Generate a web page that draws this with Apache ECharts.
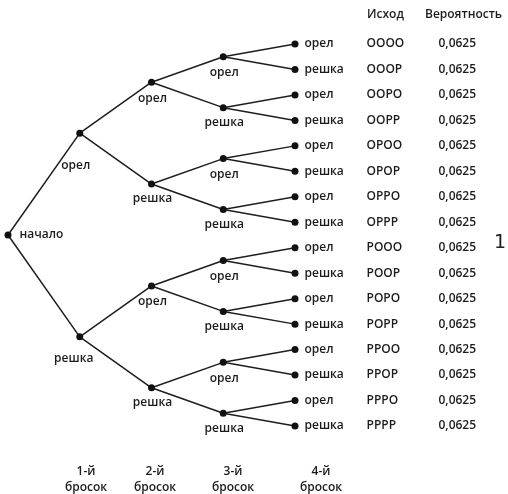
<!DOCTYPE html>
<html>
<head>
<meta charset="utf-8">
<script src="https://cdn.jsdelivr.net/npm/echarts@6/dist/echarts.min.js"></script>
<style>
html,body{margin:0;padding:0;background:#fff;}
#chart{width:508px;height:494px;}
</style>
</head>
<body>
<div id="chart"></div>
<script>
// ---- data ----
const rootLabel = 'начало';
const sides = ['орел', 'решка'];
const tossNames = ['1-й', '2-й', '3-й', '4-й'];
const tossWord = 'бросок';
const headers = ['Исход', 'Вероятность'];
const outcomes = ['ОООО','ОООР','ООРО','ООРР','ОРОО','ОРОР','ОРРО','ОРРР',
                  'РООО','РООР','РОРО','РОРР','РРОО','РРОР','РРРО','РРРР'];
const probabilities = [0.0625,0.0625,0.0625,0.0625,0.0625,0.0625,0.0625,0.0625,
                       0.0625,0.0625,0.0625,0.0625,0.0625,0.0625,0.0625,0.0625];
const footnote = '1';

// ---- build tree from the data ----
const DEPTH = tossNames.length;
const FONT = '"Open Sans", sans-serif';
const TXT = '#1c1c1c';
const nodes = [];
const links = [];
let leafCounter = 0;

function fmtProb(p){ return String(p).replace('.', ','); }

function innerLabel(depth, side){
  let off;
  if (depth === 1) off = side === 0 ? [-4, 32] : [-6, 22];
  else off = side === 0 ? [1, 16] : [1, 15];
  return { show: true, position: 'inside', offset: off, formatter: sides[side] };
}

function build(depth, side){
  const idx = nodes.length;
  const node = { name: 'n' + idx, value: [depth, 0] };
  nodes.push(node);
  if (depth === DEPTH){
    const leaf = leafCounter++;
    node.value[1] = leaf;
    node.label = {
      show: true, position: 'right', distance: 6,
      formatter: '{s|' + sides[side] + '}{o|' + outcomes[leaf] + '}{p|' + fmtProb(probabilities[leaf]) + '}',
      rich: {
        s: { width: 62, fontFamily: FONT, fontSize: 12, fontWeight: 600, color: TXT },
        o: { width: 72, fontFamily: FONT, fontSize: 12, fontWeight: 600, color: TXT },
        p: { fontFamily: FONT, fontSize: 12, fontWeight: 600, color: TXT }
      }
    };
    return idx;
  }
  const kids = [build(depth + 1, 0), build(depth + 1, 1)];
  node.value[1] = (nodes[kids[0]].value[1] + nodes[kids[1]].value[1]) / 2;
  kids.forEach(k => links.push({ source: idx, target: k }));
  if (depth === 0) {
    node.label = { show: true, position: 'right', distance: 8, formatter: rootLabel };
  } else {
    node.label = innerLabel(depth, side);
  }
  return idx;
}
build(0, -1);

const chart = echarts.init(document.getElementById('chart'), null, { renderer: 'canvas' });
chart.setOption({
  animation: false,
  backgroundColor: '#fff',
  grid: { left: 8, right: 213, top: 44, bottom: 68 },
  xAxis: { type: 'value', min: 0, max: DEPTH, show: false },
  yAxis: { type: 'value', min: 0, max: outcomes.length - 1, inverse: true, show: false },
  series: [{
    type: 'graph',
    coordinateSystem: 'cartesian2d',
    symbol: 'circle',
    symbolSize: 7,
    itemStyle: { color: '#111' },
    lineStyle: { color: '#1e1e1e', width: 1.5, opacity: 1, curveness: 0 },
    label: { show: true, fontFamily: FONT, fontSize: 12, fontWeight: 600, color: TXT },
    emphasis: { disabled: true },
    data: nodes,
    links: links
  }],
  graphic: [
    { type: 'text', left: 367, top: 9, style: { text: headers[0], font: '600 12px ' + FONT, fill: TXT } },
    { type: 'text', left: 425, top: 9, style: { text: headers[1], font: '600 12px ' + FONT, fill: TXT } },
    { type: 'text', left: 494, top: 234, style: { text: footnote, font: '19px "DejaVu Sans"', fill: '#222' } }
  ].concat(tossNames.map((t, i) => ({
    type: 'text',
    x: [86, 155, 233, 321][i],
    y: 464,
    style: { text: t + '\n' + tossWord, font: '600 12px ' + FONT, fill: TXT, align: 'center', lineHeight: 16 }
  })))
});
</script>
</body>
</html>
